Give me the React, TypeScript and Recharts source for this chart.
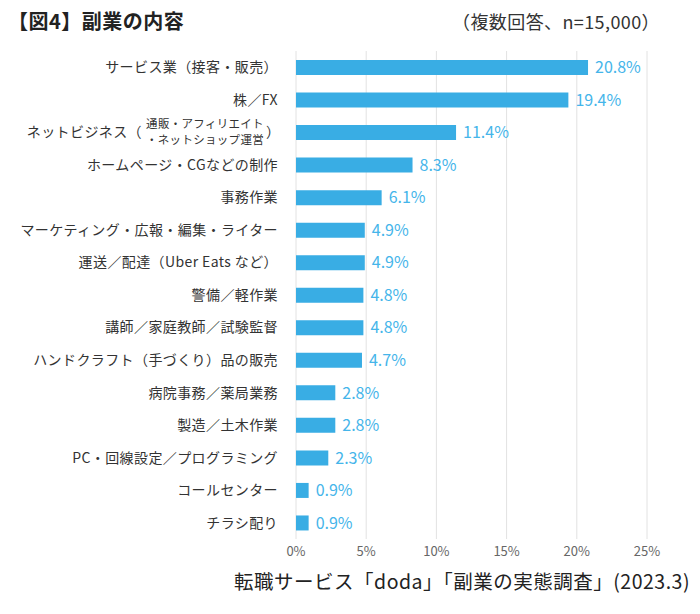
import React from 'react';
import { BarChart, Bar, XAxis, YAxis, CartesianGrid, LabelList } from 'recharts';

const categories = [
    'サービス業（接客・販売）',
    '株／FX',
    'ネットビジネス（通販・アフィリエイト・ネットショップ運営）',
    'ホームページ・CGなどの制作',
    '事務作業',
    'マーケティング・広報・編集・ライター',
    '運送／配達（Uber Eats など）',
    '警備／軽作業',
    '講師／家庭教師／試験監督',
    'ハンドクラフト（手づくり）品の販売',
    '病院事務／薬局業務',
    '製造／土木作業',
    'PC・回線設定／プログラミング',
    'コールセンター',
    'チラシ配り',
];

const values = [20.8, 19.4, 11.4, 8.3, 6.1, 4.9, 4.9, 4.8, 4.8, 4.7, 2.8, 2.8, 2.3, 0.9, 0.9];

const xTicks = [0, 5, 10, 15, 20, 25];

const data = categories.map((name, i) => ({ name, value: values[i] }));

const FONT = '"Noto Sans CJK JP", "Noto Sans", sans-serif';
const BAR = '#39ade4';
const LABEL = '#45b5ea';

const CategoryTick = (props: any) => {
    const { x, y, payload } = props;
    const name: string = payload.value;
    if (name.startsWith('ネットビジネス')) {
        return (
            <g fontFamily={FONT} fill="#333">
                <text x={x - 146} y={y} dy="0.35em" textAnchor="end" fontSize={14} letterSpacing={0.4}>ネットビジネス（</text>
                <text x={x - 83} y={y - 8} dy="0.35em" textAnchor="middle" fontSize={11.5} letterSpacing={0.3}>通販・アフィリエイト</text>
                <text x={x - 83} y={y + 8} dy="0.35em" textAnchor="middle" fontSize={11.5} letterSpacing={0.3}>・ネットショップ運営</text>
                <text x={x - 22} y={y} dy="0.35em" textAnchor="start" fontSize={14}>）</text>
            </g>
        );
    }
    return (
        <text x={x - 10} y={y} dy="0.35em" textAnchor="end" fontSize={14} fill="#333" fontFamily={FONT} letterSpacing={0.4}>
            {name}
        </text>
    );
};

export default function App() {
    return (
        <div style={{ position: 'absolute', left: 0, top: 0, width: 700, height: 614, background: '#fff', fontFamily: FONT }}>
            <div style={{ position: 'absolute', left: 8, top: 6, fontSize: 20, fontWeight: 700, color: '#222', letterSpacing: 0.5 }}>
                【図4】副業の内容
            </div>
            <div style={{ position: 'absolute', right: 40, top: 8, fontSize: 18, color: '#333', letterSpacing: 0.4 }}>
                （複数回答、n=15,000）
            </div>
            <BarChart
                width={700}
                height={614}
                layout="vertical"
                data={data}
                margin={{ top: 51, right: 53, left: 0, bottom: 45 }}
                style={{ fontFamily: FONT }}
            >
                <CartesianGrid horizontal={false} vertical={true} stroke="#e2e2e2" />
                <XAxis
                    type="number"
                    domain={[0, 25]}
                    ticks={xTicks}
                    tickFormatter={(v: number) => `${v}%`}
                    axisLine={false}
                    tickLine={false}
                    tick={{ fill: '#666', fontSize: 13 }}
                    height={30}
                    interval={0}
                />
                <YAxis
                    type="category"
                    dataKey="name"
                    width={296}
                    axisLine={false}
                    tickLine={false}
                    tick={<CategoryTick />}
                    interval={0}
                />
                <Bar dataKey="value" fill={BAR} barSize={15} isAnimationActive={false}>
                    <LabelList
                        dataKey="value"
                        position="right"
                        offset={7}
                        formatter={(v: any) => `${Number(v).toFixed(1)}%`}
                        style={{ fill: LABEL, fontSize: 16 }}
                    />
                </Bar>
            </BarChart>
            <div style={{ position: 'absolute', right: 10, top: 566, fontSize: 19.5, color: '#222', letterSpacing: 0.5 }}>
                転職サービス「doda」「副業の実態調査」(2023.3)
            </div>
        </div>
    );
}
